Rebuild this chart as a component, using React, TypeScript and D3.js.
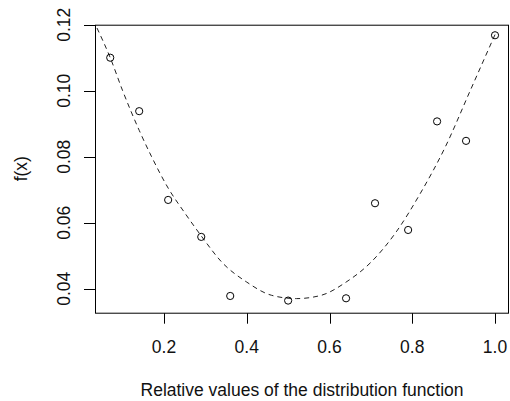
import React, { useEffect, useRef } from 'react';
import * as d3 from 'd3';

// observed points
const xValues = [0.07, 0.14, 0.21, 0.29, 0.36, 0.5, 0.64, 0.71, 0.79, 0.86, 0.93, 1.0];
const yValues = [0.11, 0.0938, 0.0669, 0.0557, 0.0378, 0.0364, 0.0371, 0.0659, 0.0578, 0.0907, 0.0848, 0.1168];

// fitted curve (dashed)
const curveX = [0.038, 0.07, 0.1, 0.14, 0.17, 0.21, 0.25, 0.29, 0.34, 0.4, 0.46, 0.52, 0.58, 0.64, 0.7, 0.76, 0.82, 0.88, 0.94, 1.0];
const curveY = [0.119, 0.11, 0.1, 0.088, 0.08, 0.0705, 0.063, 0.056, 0.048, 0.042, 0.038, 0.037, 0.038, 0.042, 0.048, 0.057, 0.069, 0.083, 0.1, 0.117];

const xTicks = [0.2, 0.4, 0.6, 0.8, 1.0];
const yTicks = [0.04, 0.06, 0.08, 0.1, 0.12];

const xLabel = 'Relative values of the distribution function';
const yLabel = 'f(x)';

const App = () => {
  const chartRef = useRef<SVGSVGElement>(null);

  useEffect(() => {
    const width = 510;
    const height = 401;
    const left = 95;
    const right = 509;
    const top = 24.7;
    const bottom = 312.7;
    const font = 'Liberation Sans, Arial, sans-serif';
    const fontSize = 17.5;

    const svg = d3.select(chartRef.current);
    svg.selectAll('*').remove();

    const x = d3.scaleLinear().domain([0.0332, 1.0338]).range([left, right]);
    const y = d3.scaleLinear().domain([0.03273, 0.12]).range([bottom, top]);

    // box
    svg
      .append('rect')
      .attr('x', left + 0.5)
      .attr('y', top + 0.5)
      .attr('width', right - left - 1)
      .attr('height', bottom - top)
      .attr('fill', 'none')
      .attr('stroke', '#000');

    // x axis ticks + labels
    const gx = svg.append('g');
    gx.selectAll('line')
      .data(xTicks)
      .join('line')
      .attr('x1', (d) => Math.round(x(d)) + 0.5)
      .attr('x2', (d) => Math.round(x(d)) + 0.5)
      .attr('y1', bottom + 0.5)
      .attr('y2', bottom + 11)
      .attr('stroke', '#000');
    gx.selectAll('text')
      .data(xTicks)
      .join('text')
      .attr('x', (d) => x(d))
      .attr('y', 353)
      .attr('text-anchor', 'middle')
      .attr('font-family', font)
      .attr('font-size', fontSize)
      .attr('fill', '#111')
      .text((d) => d3.format('.1f')(d));

    // y axis ticks + labels
    const gy = svg.append('g');
    gy.selectAll('line')
      .data(yTicks)
      .join('line')
      .attr('x1', left - 11)
      .attr('x2', left + 0.5)
      .attr('y1', (d) => Math.round(y(d)) + 0.5)
      .attr('y2', (d) => Math.round(y(d)) + 0.5)
      .attr('stroke', '#000');
    gy.selectAll('text')
      .data(yTicks)
      .join('text')
      .attr('transform', (d) => `translate(70,${y(d)}) rotate(-90)`)
      .attr('text-anchor', 'middle')
      .attr('font-family', font)
      .attr('font-size', fontSize)
      .attr('fill', '#111')
      .text((d) => d3.format('.2f')(d));

    // axis titles
    svg
      .append('text')
      .attr('x', (left + right) / 2)
      .attr('y', 396)
      .attr('text-anchor', 'middle')
      .attr('font-family', font)
      .attr('font-size', fontSize)
      .attr('fill', '#111')
      .text(xLabel);
    svg
      .append('text')
      .attr('transform', `translate(27,${(top + bottom) / 2}) rotate(-90)`)
      .attr('text-anchor', 'middle')
      .attr('font-family', font)
      .attr('font-size', fontSize)
      .attr('fill', '#111')
      .text(yLabel);

    // dashed fitted curve
    const line = d3
      .line<number>()
      .x((d, i) => x(curveX[i]))
      .y((d) => y(d))
      .curve(d3.curveMonotoneX);
    svg
      .append('path')
      .datum(curveY)
      .attr('d', line)
      .attr('fill', 'none')
      .attr('stroke', '#222')
      .attr('stroke-width', 1)
      .attr('stroke-dasharray', '5,4');

    // points
    svg
      .append('g')
      .selectAll('circle')
      .data(xValues)
      .join('circle')
      .attr('cx', (d) => x(d))
      .attr('cy', (d, i) => y(yValues[i]))
      .attr('r', 3.6)
      .attr('fill', 'none')
      .attr('stroke', '#000')
      .attr('stroke-width', 1);

    svg.attr('width', width).attr('height', height);
  }, []);

  return (
    <div style={{ position: 'absolute', left: 0, top: 0 }}>
      <svg ref={chartRef} style={{ display: 'block', background: '#fff' }}></svg>
    </div>
  );
};

export default App;
